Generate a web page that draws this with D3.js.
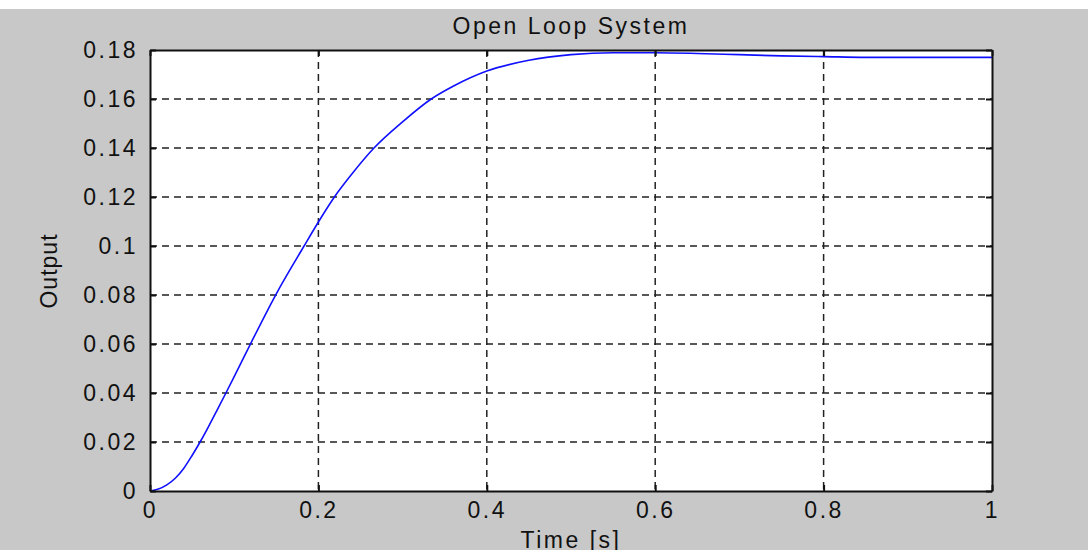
<!DOCTYPE html>
<html>
<head>
<meta charset="utf-8">
<script src="https://cdn.jsdelivr.net/npm/d3@7"></script>
<style>
  body { margin: 0; background: #fff; }
  svg { display: block; }
  text { font-family: "Liberation Sans", Arial, sans-serif; fill: #111; }
</style>
</head>
<body>
<div id="chart"></div>
<script>
// step response
var times   = [0, 0.01, 0.02, 0.03, 0.04, 0.05, 0.06, 0.07, 0.08, 0.09, 0.1, 0.12, 0.15, 0.183, 0.2, 0.219, 0.24, 0.266, 0.3, 0.334, 0.36, 0.4, 0.45, 0.5, 0.55, 0.6, 0.65, 0.7, 0.75, 0.8, 0.85, 0.9, 1.0];
var outputs = [0, 0.0008, 0.0025, 0.0052, 0.0092, 0.0145, 0.0203, 0.0266, 0.0332, 0.0399, 0.0467, 0.0605, 0.0805, 0.1, 0.1098, 0.12, 0.1295, 0.14, 0.1507, 0.16, 0.1652, 0.1714, 0.1758, 0.1781, 0.1789, 0.1789, 0.1786, 0.1781, 0.1776, 0.1773, 0.1770, 0.1770, 0.1770];
var xTicks = [0, 0.2, 0.4, 0.6, 0.8, 1];
var yTicks = [0, 0.02, 0.04, 0.06, 0.08, 0.1, 0.12, 0.14, 0.16, 0.18];

var width = 1088, height = 550;
var plotLeft = 150, plotRight = 992, plotTop = 50, plotBottom = 491;
var fontSize = 23, spacing = 2.5;

var svg = d3.select("#chart").append("svg")
    .attr("width", width)
    .attr("height", height);

svg.append("rect")
    .attr("x", 0).attr("y", 9)
    .attr("width", width).attr("height", height - 9)
    .attr("fill", "#c8c8c8");

var x = d3.scaleLinear().domain([0, 1]).range([plotLeft, plotRight]);
var y = d3.scaleLinear().domain([0, 0.18]).range([plotBottom, plotTop]);

svg.append("rect")
    .attr("x", plotLeft).attr("y", plotTop)
    .attr("width", plotRight - plotLeft).attr("height", plotBottom - plotTop)
    .attr("fill", "#fff");

// dashed grid
svg.selectAll(".vgrid")
    .data(xTicks.slice(1, -1))
  .enter().append("line")
    .attr("x1", function(d) { return x(d); })
    .attr("x2", function(d) { return x(d); })
    .attr("y1", plotTop).attr("y2", plotBottom)
    .attr("stroke", "#222").attr("stroke-width", 1.5)
    .attr("stroke-dasharray", "7,5");

svg.selectAll(".hgrid")
    .data(yTicks.slice(1, -1))
  .enter().append("line")
    .attr("y1", function(d) { return y(d); })
    .attr("y2", function(d) { return y(d); })
    .attr("x1", plotLeft).attr("x2", plotRight)
    .attr("stroke", "#222").attr("stroke-width", 1.5)
    .attr("stroke-dasharray", "7,5");

// the response curve
var line = d3.line()
    .x(function(d, i) { return x(times[i]); })
    .y(function(d) { return y(d); })
    .curve(d3.curveMonotoneX);

svg.append("path")
    .datum(outputs)
    .attr("d", line)
    .attr("fill", "none")
    .attr("stroke", "#1010ff")
    .attr("stroke-width", 1.6);

// axes, ticks pointing inward like MATLAB
var xAxis = d3.axisBottom(x).tickValues(xTicks).tickSizeInner(-6).tickSizeOuter(0)
    .tickFormat(d3.format("~g"));
var yAxis = d3.axisLeft(y).tickValues(yTicks).tickSizeInner(-6).tickSizeOuter(0)
    .tickFormat(d3.format("~g")).tickPadding(12);

var gx = svg.append("g")
    .attr("transform", "translate(0," + plotBottom + ")")
    .call(xAxis);
gx.selectAll(".tick text").attr("y", 27).attr("dy", 0);

svg.append("g")
    .attr("transform", "translate(" + plotLeft + ",0)")
    .call(yAxis);
svg.append("g")
    .attr("transform", "translate(0," + plotTop + ")")
    .call(d3.axisTop(x).tickValues(xTicks).tickSizeInner(-6).tickSizeOuter(0).tickFormat(""));
svg.append("g")
    .attr("transform", "translate(" + plotRight + ",0)")
    .call(d3.axisRight(y).tickValues(yTicks).tickSizeInner(-6).tickSizeOuter(0).tickFormat(""));

svg.selectAll(".domain, .tick line").attr("stroke", "#111").attr("stroke-width", 2);
svg.selectAll(".tick text")
    .attr("font-size", fontSize)
    .attr("letter-spacing", spacing)
    .attr("font-family", "Liberation Sans, Arial, sans-serif")
    .attr("fill", "#222");

svg.append("text")
    .attr("x", x(0.5)).attr("y", 34)
    .attr("text-anchor", "middle")
    .attr("font-size", fontSize)
    .attr("letter-spacing", spacing)
    .text("Open Loop System");

svg.append("text")
    .attr("x", x(0.5)).attr("y", 548)
    .attr("text-anchor", "middle")
    .attr("font-size", fontSize)
    .attr("letter-spacing", spacing)
    .text("Time [s]");

svg.append("text")
    .attr("transform", "translate(57," + 271 + ") rotate(-90)")
    .attr("text-anchor", "middle")
    .attr("font-size", fontSize)
    .attr("letter-spacing", 1)
    .text("Output");
</script>
</body>
</html>
